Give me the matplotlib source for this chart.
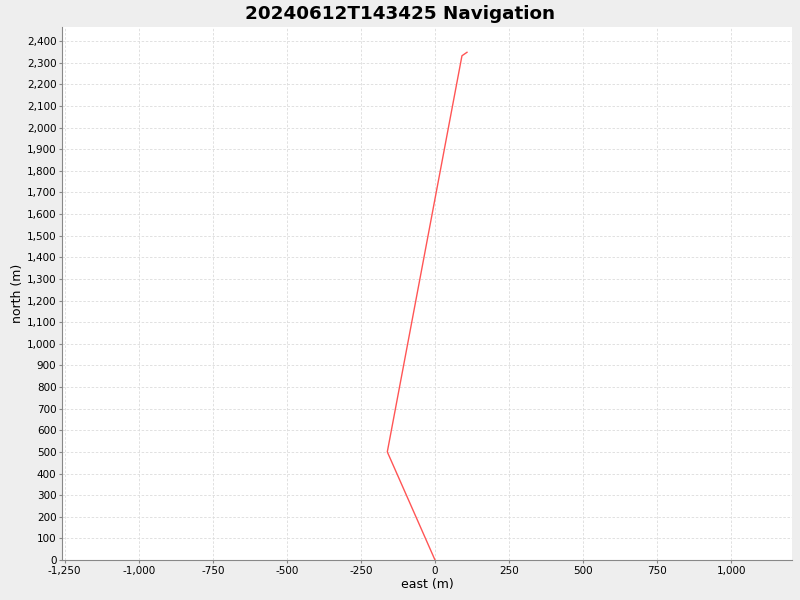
import matplotlib
matplotlib.use('Agg')
import matplotlib.pyplot as plt
from matplotlib.ticker import MultipleLocator, FuncFormatter

# track, east / north in metres
east = [0, -161, 91, 108]
north = [0, 500, 2332, 2348]

fig = plt.figure(figsize=(8, 6), dpi=100, facecolor='#eeeeee')
ax = fig.add_axes([62/800, 1 - 560/600, (792 - 62)/800, (560 - 27)/600])
ax.set_facecolor('white')

ax.plot(east, north, color='#ff5555', lw=1.0)

ax.set_xlim(-1259, 1205)
ax.set_ylim(0, 2465)
ax.xaxis.set_major_locator(MultipleLocator(250))
ax.yaxis.set_major_locator(MultipleLocator(100))
fmt = FuncFormatter(lambda v, p: f'{v:,.0f}')
ax.xaxis.set_major_formatter(fmt)
ax.yaxis.set_major_formatter(fmt)

ax.grid(True, color='#dcdcdc', ls=(0, (3, 2)), lw=0.6)
ax.set_axisbelow(True)
for s in ['top', 'right']:
    ax.spines[s].set_visible(False)
for s in ['left', 'bottom']:
    ax.spines[s].set_color('#888888')
ax.tick_params(labelsize=7.5, length=2, color='#888888', pad=2)

ax.set_xlabel('east (m)', fontsize=9, labelpad=2)
ax.set_ylabel('north (m)', fontsize=9, labelpad=2)
fig.suptitle('20240612T143425 Navigation', fontsize=13.2, fontweight='bold', y=0.992)

fig.savefig('out.png', dpi=100, facecolor=fig.get_facecolor())
